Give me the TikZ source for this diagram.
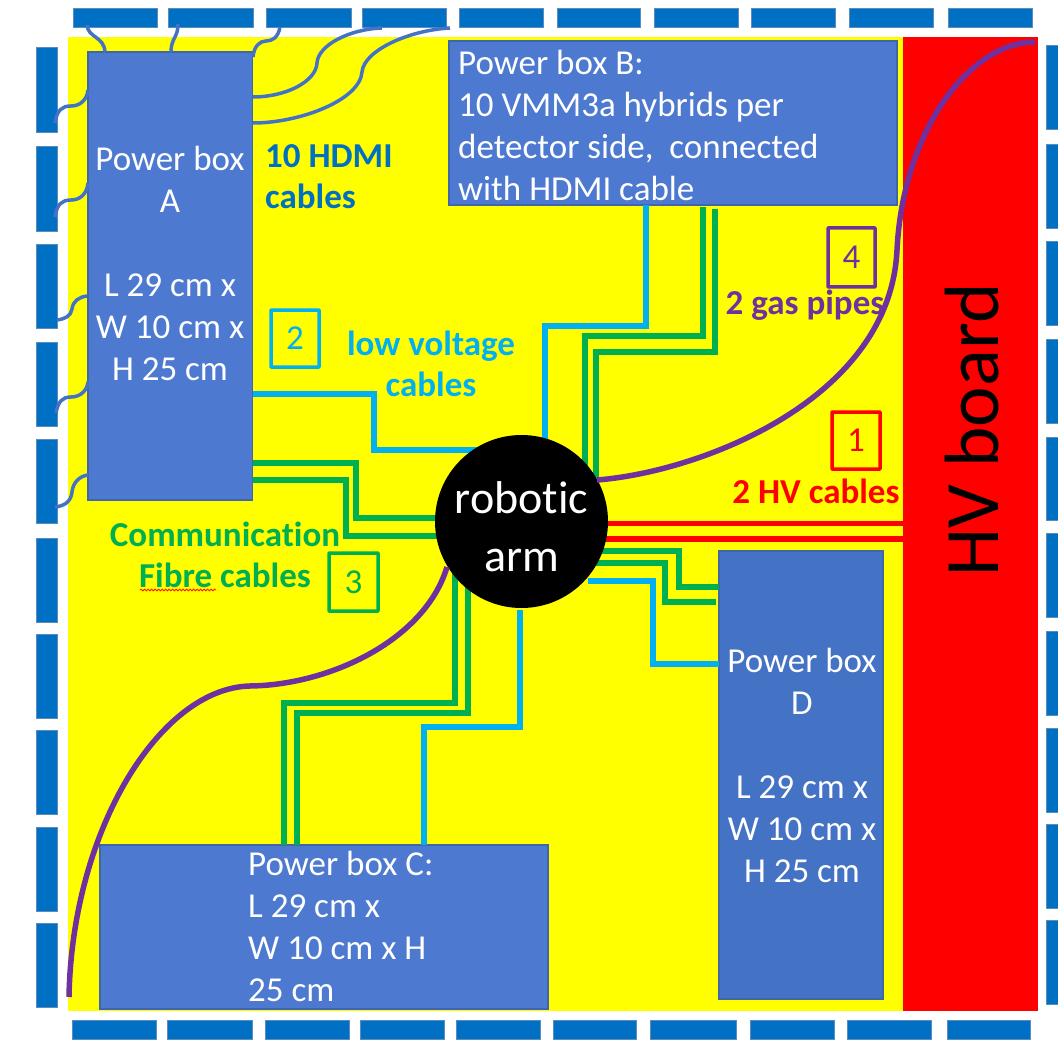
\documentclass[tikz,border=0pt]{standalone}
\usepackage{fontspec}
\setmainfont{Carlito}[Ligatures=NoCommon]
\usetikzlibrary{decorations.pathmorphing}
\definecolor{tilec}{HTML}{0070C4}
\definecolor{tileb}{HTML}{5E8BBE}
\definecolor{boxc}{HTML}{4D7AD0}
\definecolor{boxd}{HTML}{4472C4}
\definecolor{boxb}{HTML}{3F66A8}
\definecolor{hdmi}{HTML}{4472C4}
\definecolor{lv}{HTML}{00B0F0}
\definecolor{fib}{HTML}{00B050}
\definecolor{gas}{HTML}{7030A0}
\definecolor{hd}{HTML}{0070C0}
\definecolor{fieldc}{HTML}{FFFF00}
\definecolor{hvc}{HTML}{FF0000}
\tikzset{
  tile/.style={draw=tileb,line width=0.8pt,fill=tilec,inner sep=0pt,outer sep=0pt},
  pbox/.style={draw=boxb,line width=1.5pt,fill=boxc,inner sep=0pt,outer sep=0pt},
  ptext/.style={text=white,inner sep=0pt,font=\fontsize{35}{42}\selectfont},
  lab/.style={inner sep=0pt,font=\fontsize{35}{41}\selectfont\bfseries,align=center},
  numbox/.style={draw,line width=3.5pt,inner sep=0pt,font=\fontsize{35}{41}\selectfont,rounded corners=0.5pt},
  hcable/.style={draw=hdmi,line width=3.5pt},
  lvcable/.style={draw=lv,line width=5.5pt,line join=miter},
  fibcable/.style={draw=fib,line width=6pt,line join=miter},
  hvcable/.style={draw=hvc,line width=5.5pt},
  gascable/.style={draw=gas,line width=5.5pt},
}
\begin{document}
\begin{tikzpicture}[x=1pt,y=-1pt]
\useasboundingbox (0,0) rectangle (1058,1043);
% backgrounds
\node[fill=fieldc,inner sep=0pt,minimum width=970pt,minimum height=973.5pt] (field) at (553,524.25) {};
\node[fill=hvc,inner sep=0pt,minimum width=135pt,minimum height=973.5pt] (hv) at (970.5,524.25) {};
% tiles
\foreach \n/\a/\b in {1/73/157,2/168/253,3/266/351,4/362/446,5/459/543,6/557/640,7/654/738,8/751/835,9/849/933,10/948/1032}
  \node[tile,minimum width=\b pt-\a pt,minimum height=19pt] (top\n) at ({(\a+\b)/2},18) {};
\foreach \n/\a/\b in {1/72/156,2/167/252,3/265/349,4/360/444,5/456/540,6/553/636,7/650/736,8/750/834,9/847/931,10/947/1030}
  \node[tile,minimum width=\b pt-\a pt,minimum height=19pt] (bot\n) at ({(\a+\b)/2},1029.5) {};
\foreach \n/\a/\b in {1/47/132,2/146.5/231,3/244/328,4/342/426,5/439/523,6/538/622,7/634/718,8/730/814,9/827/911,10/923/1007}
  \node[tile,minimum height=\b pt-\a pt,minimum width=20.5pt] (lef\n) at (46.75,{(\a+\b)/2}) {};
\foreach \n/\a/\b in {1/45/129,2/144/228,3/241/325,4/339/423,5/437/520,6/533/617,7/631/715,8/728/812,9/824/908,10/920/1004}
  \node[tile,minimum height=\b pt-\a pt,minimum width=13pt] (rig\n) at (1052.5,{(\a+\b)/2}) {};
% power boxes
\node[pbox,minimum width=164.5pt,minimum height=448pt] (boxA) at (170.25,276) {};
\node[pbox,minimum width=448pt,minimum height=164pt] (boxB) at (673,123) {};
\node[pbox,minimum width=448pt,minimum height=164pt] (boxC) at (324,927) {};
\node[pbox,fill=boxd,minimum width=164pt,minimum height=448pt] (boxD) at (801,775) {};
\node[ptext,align=center] (textA) at (170,263) {Power box\\A\\[42pt]L 29 cm x\\W 10 cm x\\H 25 cm};
\node[ptext,align=left,anchor=west] (textB) at (458,125) {Power box B:\\10 VMM3a hybrids per\\detector side,\ \ connected\\with HDMI cable};
\node[ptext,align=left,anchor=west] (textC) at (248,926) {Power box C:\\L 29 cm x\\W 10 cm x H\\25 cm};
\node[ptext,align=center] (textD) at (802,765) {Power box\\D\\[42pt]L 29 cm x\\W 10 cm x\\H 25 cm};
% free ends of the cables
\foreach \n/\x/\y in {h1/87/25,h1b/105/52,h2/178/24,h2b/171/52,h3/280/27,h3b/253/57,h4/382/28,h4b/253/97,h5/450/28,h5b/253/123,
  l1/55/123,l1b/88/90,l2/55/217,l2b/88/183,l3/57/320,l3b/87/296,l4/56/413,l4b/88/382,l5/55/507,l5b/88/475}
  \coordinate (\n) at (\x,\y);
% HDMI cables
\draw[hcable] (h1) .. controls (88,38) and (104,36) .. (h1b);
\draw[hcable] (h2) .. controls (178,38) and (171,38) .. (h2b);
\draw[hcable] (h3) .. controls (278,38) and (272,41) .. (266,41) .. controls (260,41) and (254,46) .. (h3b);
\draw[hcable] (h4b) .. controls (285,97) and (316,82) .. (317,63) .. controls (318,45) and (350,29) .. (h4);
\draw[hcable] (h5b) .. controls (300,123) and (360,100) .. (362,72) .. controls (364,50) and (410,30) .. (h5);
\draw[hcable] (l1) .. controls (57,110) and (62,106) .. (71,106) .. controls (80,106) and (87,100) .. (l1b);
\draw[hcable] (l2) .. controls (57,204) and (62,200) .. (71,200) .. controls (80,200) and (87,194) .. (l2b);
\draw[hcable] (l3) .. controls (65,319) and (71,316) .. (72,309) .. controls (73,301) and (79,297) .. (l3b);
\draw[hcable] (l4) .. controls (58,402) and (62,397) .. (71,397) .. controls (80,397) and (87,391) .. (l4b);
\draw[hcable] (l5) .. controls (64,506) and (71,502) .. (72,492) .. controls (73,482) and (80,476) .. (l5b);
% position of the robotic arm, for the cables that run under it
\path node[circle,minimum size=173pt,inner sep=0pt] (arm0) at (521.5,521.5) {};
% low voltage cables
\draw[lvcable] (boxA.east |- 0,394) -- (374,394) -- (374,450) -- (arm0.center |- 0,450);
\draw[lvcable] (646,205) -- (646,326) -- (545,326) -- (545,450);
\draw[lvcable] (520,610) -- (520,727) -- (424,727) -- (424,845);
\draw[lvcable] (588,581) -- (653,581) -- (653,664) -- (boxD.west |- 0,664);
% fibre cables
\draw[fibcable] (boxA.east |- 0,463) -- (356,463) -- (356,518) -- (arm0.center |- 0,518);
\draw[fibcable] (boxA.east |- 0,480) -- (346,480) -- (346,536) -- (arm0.center |- 0,536);
\draw[fibcable] (702.5,207) -- (702.5,336) -- (585,336) -- (585,480);
\draw[fibcable] (715,209) -- (715,352) -- (596,352) -- (596,478);
\draw[fibcable] (arm0.center |- 0,551) -- (679,551) -- (679,587) -- (boxD.west |- 0,587);
\draw[fibcable] (arm0.center |- 0,563) -- (665,563) -- (665,602) -- (716,602);
\draw[fibcable] (455,540) -- (455,703) -- (284,703) -- (284,845);
\draw[fibcable] (468,540) -- (468,713) -- (297,713) -- (297,845);
% HV cables
\draw[hvcable] (arm0.center |- 0,523.5) -- (hv.west |- 0,523.5);
\draw[hvcable] (arm0.center |- 0,539) -- (hv.west |- 0,539);
% arm
\node[circle,fill=black,text=white,minimum size=173pt,inner sep=0pt,align=center,font=\fontsize{46}{58}\selectfont] (arm) at (521.5,521.5) {\rule{0pt}{42pt}robotic\\arm};
% gas pipes
\draw[gascable] (597,480) .. controls (700,472) and (890,400) .. (897,250) .. controls (903,130) and (970,42) .. (1035,42);
\draw[gascable] (447,567) .. controls (425,640) and (330,685) .. (250,686) .. controls (160,688) and (72,830) .. (69,997);
% labels
\node[lab,text=hd,align=left,anchor=west] (lhdmi) at (265,177) {10 HDMI\\cables};
\node[lab,text=lv] (llv) at (431,364) {low voltage\\cables};
\node[lab,text=fib] (lfib) at (225,555) {Communication\\Fibre cables};
\node[lab,text=gas] (lgas) at (805,305) {2 gas pipes};
\node[lab,text=hvc] (lhv) at (816,491) {2 HV cables};
\draw[hvc!85!orange,line width=0.8pt,decorate,decoration={snake,amplitude=0.9pt,segment length=3.5pt}] (140,590) -- (216,590);
\node[numbox,draw=lv,text=lv,minimum width=48pt,minimum height=57pt] (n2) at (295,338.5) {2};
\node[numbox,draw=fib,text=fib,minimum width=49pt,minimum height=58pt] (n3) at (353.5,582) {3};
\node[numbox,draw=gas,text=gas,minimum width=47pt,minimum height=59pt] (n4) at (851.5,257.5) {4};
\node[numbox,draw=hvc,text=hvc,minimum width=48pt,minimum height=57pt] (n1) at (856,440.5) {1};
\node[rotate=90,inner sep=0pt,font=\fontsize{77}{80}\selectfont] (hvt) at (972,430) {HV board};
\end{tikzpicture}
\end{document}
